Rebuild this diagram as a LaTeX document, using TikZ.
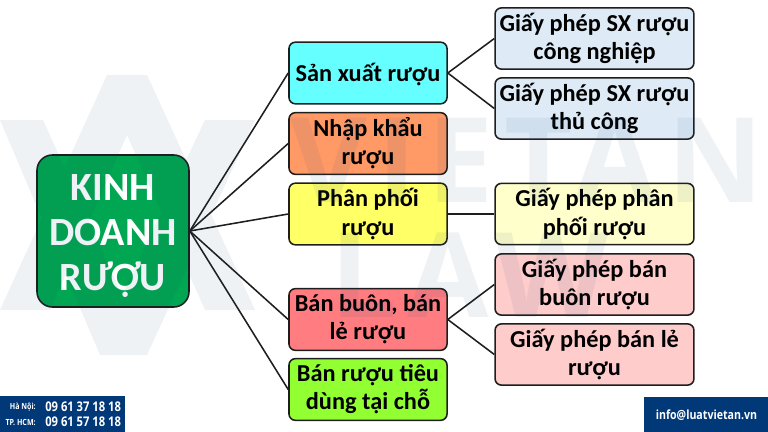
\documentclass[tikz,border=0pt]{standalone}
\usepackage{fontspec}
\setmainfont{Carlito}
\newfontfamily\narrowfont[FakeStretch=0.84]{Open Sans}
\newfontfamily\markfont[LetterSpace=9]{Open Sans}
\definecolor{rootgreen}{RGB}{0,166,81}
\definecolor{sxcyan}{RGB}{102,255,255}
\definecolor{nkorange}{RGB}{255,153,102}
\definecolor{ppyellow}{RGB}{255,255,102}
\definecolor{bbred}{RGB}{255,124,128}
\definecolor{btgreen}{RGB}{146,255,51}
\definecolor{gpblue}{RGB}{222,235,247}
\definecolor{gpyellow}{RGB}{255,255,204}
\definecolor{gppink}{RGB}{255,204,204}
\definecolor{footblue}{RGB}{0,56,120}
\definecolor{markblue}{RGB}{31,78,121}
\definecolor{edge}{RGB}{30,30,30}
\tikzset{
  box/.style={draw=edge,line width=1.1pt,rounded corners=4.5pt,align=center,inner sep=0pt,
    font=\fontsize{17.3}{20}\selectfont\bfseries},
  midbox/.style={box,minimum width=3.95cm,minimum height=1.54cm},
  gpbox/.style={box,minimum width=4.97cm,minimum height=1.53cm},
  rootbox/.style={draw=edge,line width=1.1pt,rounded corners=11pt,align=center,inner sep=0pt,
    minimum width=3.8cm,minimum height=3.8cm,fill=rootgreen,text=white,
    font=\fontsize{28.5}{32}\selectfont\bfseries},
  link/.style={draw=edge,line width=1.1pt},
  foot/.style={text=white,inner sep=0pt},
  watermark/.style={text=markblue,text opacity=.075,inner sep=0pt,anchor=west,
    font=\markfont\bfseries\fontsize{84}{90}\selectfont}
}
\begin{document}
\begin{tikzpicture}[x=0.025cm,y=-0.025cm]
\useasboundingbox (0,0) rectangle (768,432);
\node[rootbox] (root) at (113,231) {\rule{0pt}{26pt}KINH\\DOANH\\RƯỢU};
\node[midbox,fill=sxcyan] (sx) at (368,73) {\rule{0pt}{15pt}Sản xuất rượu};
\node[midbox,fill=nkorange] (nk) at (368,143.5) {Nhập khẩu\\rượu};
\node[midbox,fill=ppyellow] (pp) at (368,214) {Phân phối\\rượu};
\node[midbox,fill=bbred] (bb) at (368,319.5) {Bán buôn, bán\\lẻ rượu};
\node[midbox,fill=btgreen] (bt) at (368,389.5) {Bán rượu tiêu\\dùng tại chỗ};
\node[gpbox,fill=gpblue] (cn) at (594.5,38.5) {Giấy phép SX rượu\\công nghiệp};
\node[gpbox,fill=gpblue] (tc) at (594.5,108.5) {Giấy phép SX rượu\\thủ công};
\node[gpbox,fill=gpyellow] (gpp) at (594.5,214) {Giấy phép phân\\phối rượu};
\node[gpbox,fill=gppink] (gbb) at (594.5,284.5) {Giấy phép bán\\buôn rượu};
\node[gpbox,fill=gppink] (gbl) at (594.5,354.5) {Giấy phép bán lẻ\\rượu};
\foreach \b in {sx,nk,pp,bb,bt}
\draw[link] (root.east) -- (\b.west);
\foreach \b in {cn,tc}
\draw[link] (sx.east) -- (\b.west);
\draw[link] (pp.east) -- (gpp.west);
\foreach \b in {gbb,gbl}
\draw[link] (bb.east) -- (\b.west);
% footer
\fill[footblue] (0,396) rectangle (125,432);
\fill[footblue] (644,397) rectangle (768,432);
\node[foot,anchor=east,font=\narrowfont\bfseries\fontsize{6}{7}\selectfont] (hn) at (36,407) {Hà Nội:};
\node[foot,anchor=east,font=\narrowfont\bfseries\fontsize{6}{7}\selectfont] (hcm) at (36,422) {TP. HCM:};
\node[foot,anchor=west,font=\narrowfont\bfseries\fontsize{9.5}{11}\selectfont] (tel1) at (45,407) {09 61 37 18 18};
\node[foot,anchor=west,font=\narrowfont\bfseries\fontsize{9.5}{11}\selectfont] (tel2) at (45,422) {09 61 57 18 18};
\node[foot,font=\narrowfont\bfseries\fontsize{9}{11}\selectfont] (mail) at (706.5,415) {info@luatvietan.vn};
% watermark
\fill[markblue,opacity=.075] (107,75) -- (147,75) -- (255,310) -- (205,310) -- (127,135) -- (50,310) -- (0,310) -- cycle
  (0,120) -- (43,120) -- (122,295) -- (205,120) -- (255,120) -- (147,355) -- (100,355) -- cycle;
\node[watermark] (vietan) at (290,160) {VIETAN};
\node[watermark] (law) at (330,275) {LAW};
\end{tikzpicture}
\end{document}
